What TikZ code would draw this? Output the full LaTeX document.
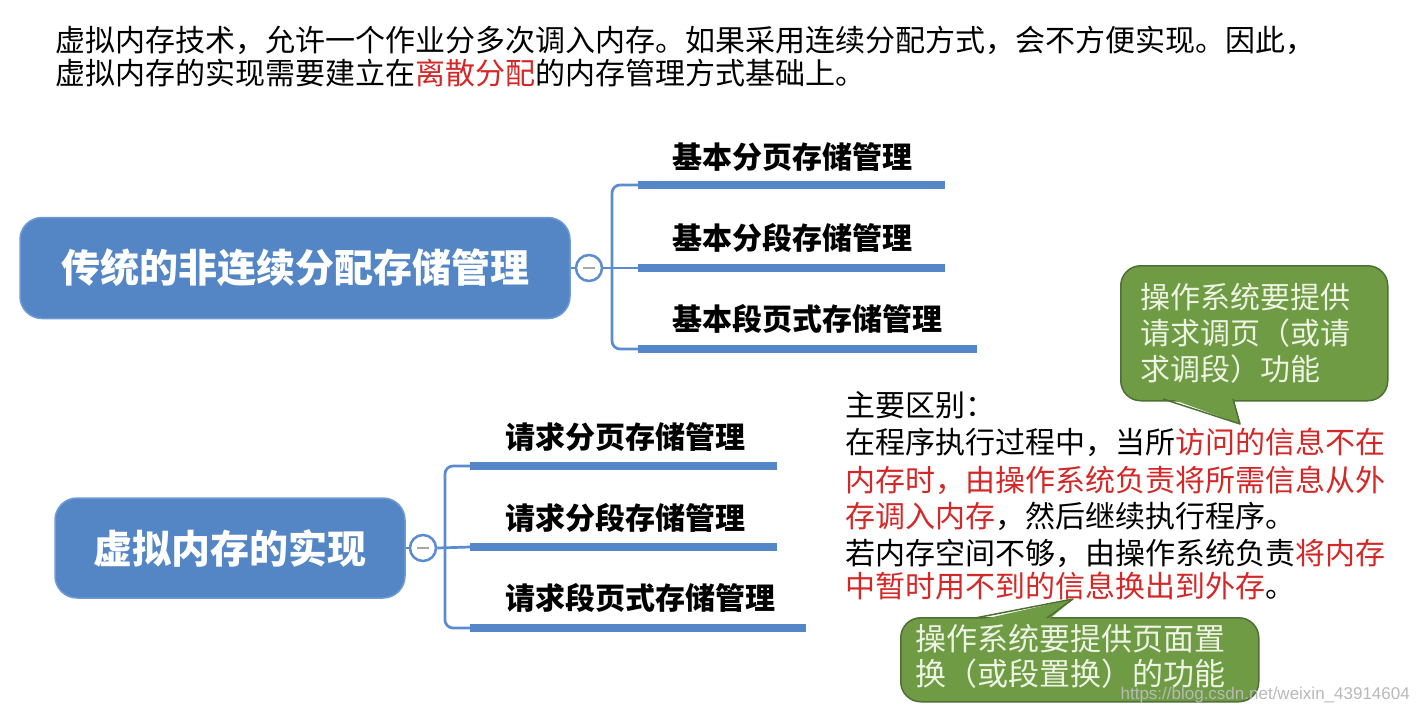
\documentclass[tikz,border=0pt]{standalone}
\usepackage{fontspec}
\setmainfont{Noto Sans CJK SC}
\newfontfamily\wmfont{Liberation Sans}
\definecolor{boxblue}{RGB}{84,134,198}
\definecolor{boxedge}{RGB}{110,155,214}
\definecolor{lineblue}{RGB}{91,139,208}
\definecolor{barblue}{RGB}{84,134,200}
\definecolor{callgreen}{RGB}{110,155,68}
\definecolor{calledge}{RGB}{78,112,52}
\definecolor{calltxt}{RGB}{238,243,228}
\definecolor{hl}{RGB}{212,40,40}
\tikzset{
  mainbox/.style={draw=boxedge, fill=boxblue, line width=1.5pt, rounded corners=22pt, text=white, inner sep=0pt, font=\bfseries\fontsize{39}{44}\selectfont},
  branch/.style={line width=2.7pt, draw=lineblue},
  bar/.style={line width=8pt, draw=barblue},
  toggle/.style={circle, draw=lineblue, fill=white, line width=2.5pt, minimum size=26pt, inner sep=0pt},
  minus/.style={line width=2pt, draw=gray!70},
  leaf/.style={anchor=west, inner sep=0pt, font=\bfseries\fontsize{30}{36}\selectfont},
  body/.style={anchor=west, inner sep=0pt, font=\fontsize{30}{36}\selectfont},
  callbox/.style={draw=calledge, fill=callgreen, line width=1.5pt, rounded corners=20pt, anchor=north west, inner sep=0pt},
  calltext/.style={anchor=west, align=left, inner sep=0pt, text=calltxt},
  ptrfill/.style={fill=callgreen},
  ptredge/.style={draw=calledge, line width=1.5pt, line join=round},
}
\begin{document}
\begin{tikzpicture}[x=1pt,y=-1pt]
\useasboundingbox (0,0) rectangle (1419,713);
\fill[white] (0,0) rectangle (1419,713);

% top text
\node[body] (top1) at (55,40) {虚拟内存技术，允许一个作业分多次调入内存。如果采用连续分配方式，会不方便实现。因此，};
\node[body] (top2) at (55,73) {虚拟内存的实现需要建立在{\color{hl}离散分配}的内存管理方式基础上。};

% ---------- tree 1 ----------
\node[mainbox, minimum width=550pt, minimum height=101pt] (box1) at (295,268) {传统的非连续分配存储管理};
\node[toggle] (t1) at (589,268) {};
\draw[minus] (t1) ++(-6,0) -- ++(12,0);
\coordinate (b1s) at (638,185); \coordinate (b1e) at (945,185);
\coordinate (b2s) at (638,268); \coordinate (b2e) at (945,268);
\coordinate (b3s) at (638,349); \coordinate (b3e) at (977,349);
\coordinate (v1t) at (612,185); \coordinate (v1b) at (612,349);
\draw[branch] (box1.east) -- (t1.west);
\draw[branch] (t1.east) -- (b2s);
\draw[branch, rounded corners=8pt] (b1s) -- (v1t) -- (v1b) -- (b3s);
\draw[bar] (b1s) -- (b1e);
\draw[bar] (b2s) -- (b2e);
\draw[bar] (b3s) -- (b3e);
\node[leaf] (l1) at (672,157) {基本分页存储管理};
\node[leaf] (l2) at (672,238) {基本分段存储管理};
\node[leaf] (l3) at (672,319) {基本段页式存储管理};

% ---------- tree 2 ----------
\node[mainbox, minimum width=350pt, minimum height=100pt] (box2) at (230,548) {虚拟内存的实现};
\node[toggle] (t2) at (423,548) {};
\draw[minus] (t2) ++(-6,0) -- ++(12,0);
\coordinate (c1s) at (470,466); \coordinate (c1e) at (777,466);
\coordinate (c2s) at (470,547); \coordinate (c2e) at (777,547);
\coordinate (c3s) at (470,628); \coordinate (c3e) at (806,628);
\coordinate (v2t) at (445,466); \coordinate (v2b) at (445,628);
\draw[branch] (box2.east) -- (t2.west);
\draw[branch] (t2.east) -- (c2s);
\draw[branch, rounded corners=8pt] (c1s) -- (v2t) -- (v2b) -- (c3s);
\draw[bar] (c1s) -- (c1e);
\draw[bar] (c2s) -- (c2e);
\draw[bar] (c3s) -- (c3e);
\node[leaf] (m1) at (505,437) {请求分页存储管理};
\node[leaf] (m2) at (505,518) {请求分段存储管理};
\node[leaf] (m3) at (505,598) {请求段页式存储管理};

% ---------- right text ----------
\node[body] (r0) at (845,405) {主要区别：};
\node[body] (r1) at (845,442) {在程序执行过程中，当所{\color{hl}访问的信息不在}};
\node[body] (r2) at (845,480) {\color{hl}内存时，由操作系统负责将所需信息从外};
\node[body] (r3) at (845,516) {{\color{hl}存调入内存}，然后继续执行程序。};
\node[body] (r4) at (845,553) {若内存空间不够，由操作系统负责{\color{hl}将内存}};
\node[body] (r5) at (845,586) {{\color{hl}中暂时用不到的信息换出到外存}。};

% ---------- callout 1 ----------
\node[callbox, minimum width=267pt, minimum height=135pt] (cb1) at (1120,265) {};
\coordinate (p1a) at (1163,399); \coordinate (p1b) at (1233,399); \coordinate (p1tip) at (1240,424);
\fill[ptrfill] (1163,396) -- (p1tip) -- (1233,396) -- cycle;
\draw[ptredge] (p1a) -- (p1tip) -- (p1b);
\node[calltext, font=\fontsize{30}{36}\selectfont] (ct1) at (1140,333) {操作系统要提供\\请求调页（或请\\求调段）功能};

% ---------- callout 2 ----------
\node[callbox, minimum width=358pt, minimum height=84pt] (cb2) at (900,617) {};
\coordinate (p2a) at (975,618); \coordinate (p2b) at (1047,618); \coordinate (p2tip) at (1073,599);
\fill[ptrfill] (975,621) -- (p2tip) -- (1047,621) -- cycle;
\draw[ptredge] (p2a) -- (p2tip) -- (p2b);
\node[calltext, font=\fontsize{31}{35}\selectfont] (ct2) at (915,656) {操作系统要提供页面置\\换（或段置换）的功能};

% watermark
\node[anchor=east, inner sep=0pt, text=gray!55, font=\wmfont\fontsize{17}{19}\selectfont] (wm) at (1410,695) {https://blog.csdn.net/weixin\_43914604};
\end{tikzpicture}
\end{document}
